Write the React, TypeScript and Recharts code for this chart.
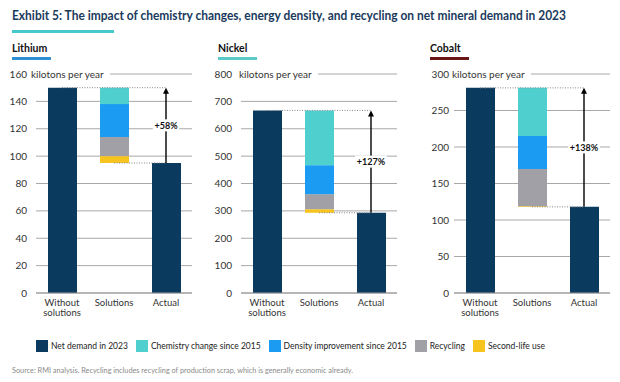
import { Bar, BarChart, CartesianGrid, ReferenceLine, XAxis, YAxis } from "recharts";

const CATEGORIES = ["Without solutions", "Solutions", "Actual"];
const MINERALS = ["Lithium", "Nickel", "Cobalt"];
const WITHOUT = [150, 667, 281];
const ACTUAL = [95, 293, 118];
const CHEMISTRY = [12, 200, 66];
const DENSITY = [24, 106, 45];
const RECYCLING = [14, 55, 51];
const SECOND_LIFE = [5, 13, 1];
const GAINS = ["+58%", "+127%", "+138%"];
const Y_TICKS = [
  [0, 20, 40, 60, 80, 100, 120, 140, 160],
  [0, 100, 200, 300, 400, 500, 600, 700, 800],
  [0, 50, 100, 150, 200, 250, 300],
];
const LEGEND = [
  "Net demand in 2023",
  "Chemistry change since 2015",
  "Density improvement since 2015",
  "Recycling",
  "Second-life use",
];

const NAVY = "#0b3a5f";
const TEAL = "#4fd0cf";
const BLUE = "#1b9cf2";
const GRAY = "#a0a0a6";
const YELLOW = "#f7c41e";
const LEGEND_COLORS = [NAVY, TEAL, BLUE, GRAY, YELLOW];
const FONT = "Lato, 'Open Sans', sans-serif";

// layout per panel
const PANEL_LEFT = [0, 205, 418];
const TICK_GAP = [9, 9, 5];
const UNIT_GAP = [4, 7, 3];
const HEADER_LEFT = [12, 218, 430];
const HEADER_COLORS = ["#2e8fd4", "#5ccaca", "#6b1616"];

function YTick(props: any) {
  const { x, y, payload, max, unitGap } = props;
  const isTop = payload.value === max;
  return (
    <g>
      {isTop && <rect x={x + 1} y={y - 7} width={unitGap + 78} height={14} fill="#fff" />}
      <text x={x} y={y} dy={3.5} textAnchor="end" fontSize={10} fill="#333" fontFamily={FONT}>
        {payload.value}
      </text>
      {isTop && (
        <text x={x + unitGap} y={y} dy={3.5} fontSize={10} fill="#333" fontFamily={FONT}>
          kilotons per year
        </text>
      )}
    </g>
  );
}

function XTick(props: any) {
  const { x, y, payload } = props;
  const lines = payload.value === "Without solutions" ? ["Without", "solutions"] : [payload.value];
  return (
    <text x={x} y={y} textAnchor="middle" fontSize={9.5} fill="#333" fontFamily={FONT}>
      {lines.map((l, i) => (
        <tspan key={i} x={x} dy={i === 0 ? 12.5 : 10.6}>
          {l}
        </tspan>
      ))}
    </text>
  );
}

function GainArrow(props: any) {
  const { x1, y1, y2, label } = props;
  const top = Math.min(y1, y2);
  const bottom = Math.max(y1, y2);
  const mid = (top + bottom) / 2;
  const w = label.length * 5.6 + 4;
  return (
    <g>
      <line x1={x1} x2={x1} y1={bottom} y2={top + 5} stroke="#000" strokeWidth={1.4} />
      <polygon points={`${x1 - 3},${top + 6} ${x1 + 3},${top + 6} ${x1},${top}`} fill="#000" />
      <rect x={x1 - w / 2} y={mid - 6} width={w} height={12} fill="#fff" />
      <text x={x1} y={mid} dy={3.5} textAnchor="middle" fontSize={9} fontWeight={700} fill="#111" fontFamily={FONT}>
        {label}
      </text>
    </g>
  );
}

function Panel({ i }: { i: number }) {
  const data = [
    { cat: CATEGORIES[0], net: WITHOUT[i] },
    {
      cat: CATEGORIES[1],
      base: ACTUAL[i],
      second: SECOND_LIFE[i],
      recycling: RECYCLING[i],
      density: DENSITY[i],
      chemistry: CHEMISTRY[i],
    },
    { cat: CATEGORIES[2], net: ACTUAL[i] },
  ];
  const ticks = Y_TICKS[i];
  const max = ticks[ticks.length - 1];
  return (
    <div style={{ position: "absolute", left: PANEL_LEFT[i], top: 60 }}>
      <BarChart width={200} height={263} data={data} margin={{ top: 14, right: 8, bottom: 0, left: 0 }}>
        <CartesianGrid horizontal vertical={false} stroke="#a8a8a8" />
        <XAxis
          dataKey="cat"
          height={30}
          axisLine={{ stroke: "#999" }}
          tickLine={false}
          tickSize={0}
          tickMargin={0}
          interval={0}
          tick={(p: any) => <XTick {...p} />}
        />
        <YAxis
          width={36}
          domain={[0, max]}
          ticks={ticks}
          axisLine={false}
          tickLine={false}
          tickSize={0}
          tickMargin={TICK_GAP[i]}
          tick={(p: any) => <YTick {...p} max={max} unitGap={UNIT_GAP[i]} />}
        />
        <Bar dataKey="net" stackId="a" fill={NAVY} barSize={29} isAnimationActive={false} />
        <Bar dataKey="base" stackId="a" fill="transparent" barSize={29} isAnimationActive={false} />
        <Bar dataKey="second" stackId="a" fill={YELLOW} barSize={29} isAnimationActive={false} />
        <Bar dataKey="recycling" stackId="a" fill={GRAY} barSize={29} isAnimationActive={false} />
        <Bar dataKey="density" stackId="a" fill={BLUE} barSize={29} isAnimationActive={false} />
        <Bar dataKey="chemistry" stackId="a" fill={TEAL} barSize={29} isAnimationActive={false} />
        <ReferenceLine
          segment={[
            { x: CATEGORIES[0], y: WITHOUT[i] },
            { x: CATEGORIES[2], y: WITHOUT[i] },
          ]}
          stroke="#888"
          strokeDasharray="1 1.5"
        />
        <ReferenceLine
          segment={[
            { x: CATEGORIES[1], y: ACTUAL[i] },
            { x: CATEGORIES[2], y: ACTUAL[i] },
          ]}
          stroke="#888"
          strokeDasharray="1 1.5"
        />
        <ReferenceLine
          segment={[
            { x: CATEGORIES[2], y: ACTUAL[i] },
            { x: CATEGORIES[2], y: WITHOUT[i] },
          ]}
          shape={(p: any) => <GainArrow {...p} label={GAINS[i]} />}
        />
      </BarChart>
    </div>
  );
}

export default function App() {
  return (
    <div
      style={{
        position: "absolute",
        left: 0,
        top: 0,
        width: 620,
        height: 382,
        background: "#fff",
        fontFamily: FONT,
        overflow: "hidden",
      }}
    >
      <svg width={620} height={62} style={{ position: "absolute", left: 0, top: 0 }}>
        <text
          x={12}
          y={20}
          fontSize={13}
          fontWeight={700}
          fill="#1a3b5d"
          fontFamily={FONT}
          textLength={554}
          lengthAdjust="spacingAndGlyphs"
        >
          Exhibit 5: The impact of chemistry changes, energy density, and recycling on net mineral demand in 2023
        </text>
        <rect x={12} y={30} width={102} height={3} fill="#45c9cc" />
        {MINERALS.map((m, i) => (
          <g key={m}>
            <text x={HEADER_LEFT[i]} y={52} fontSize={10.5} fontWeight={700} fill="#111" fontFamily={FONT}>
              {m}
            </text>
            <rect x={HEADER_LEFT[i]} y={57} width={39} height={3} fill={HEADER_COLORS[i]} />
          </g>
        ))}
      </svg>

      {MINERALS.map((m, i) => (
        <Panel key={m} i={i} />
      ))}

      <div
        style={{
          position: "absolute",
          left: 36,
          top: 340,
          display: "flex",
          alignItems: "center",
          fontSize: 8.5,
          color: "#222",
          whiteSpace: "nowrap",
        }}
      >
        {LEGEND.map((l, i) => (
          <div key={l} style={{ display: "flex", alignItems: "center", marginRight: 8 }}>
            <div style={{ width: 12, height: 12, background: LEGEND_COLORS[i], marginRight: 3 }} />
            <span>{l}</span>
          </div>
        ))}
      </div>

      <div
        style={{
          position: "absolute",
          left: 12,
          top: 366,
          fontSize: 7.3,
          color: "#8a8a8a",
          whiteSpace: "nowrap",
        }}
      >
        Source: RMI analysis. Recycling includes recycling of production scrap, which is generally economic already.
      </div>
    </div>
  );
}
